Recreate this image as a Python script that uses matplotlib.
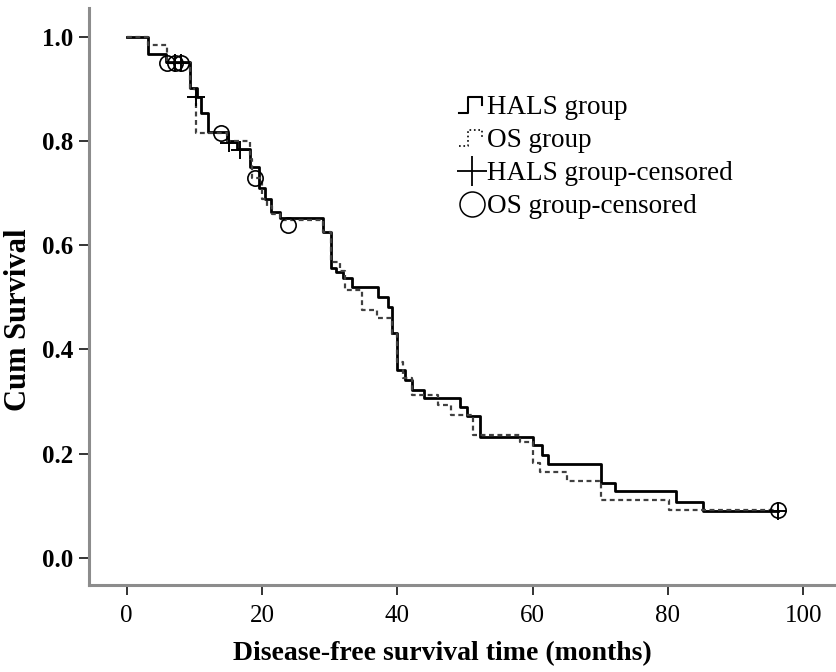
import matplotlib
matplotlib.use('Agg')
import matplotlib.pyplot as plt
from matplotlib.lines import Line2D
from matplotlib.legend_handler import HandlerBase

# Kaplan-Meier steps (time in months, survival after the step)
hals_times = [0, 3.1, 5.8, 9.3, 10.4, 11.0, 12.0, 14.8, 16.3, 18.2, 19.5, 20.5, 21.4, 22.6,
              29.0, 30.2, 31.0, 32.0, 33.3, 37.2, 38.6, 39.2, 40.0, 41.1, 42.2, 44.0,
              49.3, 50.3, 52.2, 60.0, 61.4, 62.3, 70.1, 72.2, 81.2, 85.2, 96.3]
hals_surv = [1.0, 0.967, 0.952, 0.902, 0.885, 0.854, 0.818, 0.80, 0.785, 0.75, 0.71, 0.69, 0.664, 0.652,
             0.626, 0.557, 0.549, 0.537, 0.52, 0.50, 0.482, 0.432, 0.361, 0.342, 0.322, 0.307,
             0.29, 0.272, 0.232, 0.217, 0.198, 0.18, 0.144, 0.127, 0.107, 0.09, 0.09]
hals_cens_t = [7.1, 8.0, 10.2, 15.2, 16.7, 96.3]
hals_cens_s = [0.95, 0.95, 0.885, 0.797, 0.783, 0.09]

os_times = [0, 3.1, 6.0, 9.3, 10.2, 14.9, 18.2, 18.6, 20.0, 20.8, 21.5, 22.7,
            29.0, 30.2, 31.5, 32.3, 34.8, 37.0, 39.2, 40.0, 40.8, 42.2, 46.0, 48.0,
            51.2, 58.1, 60.0, 61.1, 65.1, 70.1, 80.2, 96.3]
os_surv = [1.0, 0.985, 0.95, 0.90, 0.816, 0.80, 0.765, 0.73, 0.69, 0.675, 0.66, 0.648,
           0.626, 0.568, 0.55, 0.514, 0.476, 0.46, 0.43, 0.375, 0.345, 0.313, 0.294, 0.274,
           0.236, 0.222, 0.182, 0.165, 0.148, 0.111, 0.092, 0.092]
os_cens_t = [6.0, 7.1, 8.0, 14.0, 19.0, 23.8, 96.3]
os_cens_s = [0.95, 0.95, 0.95, 0.816, 0.73, 0.64, 0.092]

x_ticks = [0, 20, 40, 60, 80, 100]
y_ticks = [0.0, 0.2, 0.4, 0.6, 0.8, 1.0]


class HandlerStep(HandlerBase):
    def __init__(self, ls):
        super().__init__()
        self.ls = ls

    def create_artists(self, legend, orig_handle, xdescent, ydescent, width, height, fontsize, trans):
        x0, y0 = -xdescent, -ydescent
        xs = [x0, x0 + width * 0.35, x0 + width * 0.35, x0 + width * 0.85, x0 + width * 0.85]
        ys = [y0 + height * 0.05, y0 + height * 0.05, y0 + height * 0.9, y0 + height * 0.9, y0 + height * 0.45]
        ln = Line2D(xs, ys, color='black', lw=1.5 if self.ls == '-' else 1.2, ls=self.ls, transform=trans)
        return [ln]


plt.rcParams['font.family'] = ['Liberation Serif', 'DejaVu Serif']

fig = plt.figure(figsize=(8.37, 6.72), dpi=100)
ax = fig.add_axes([0.106, 0.13, 0.894, 0.858])

ax.step(hals_times, hals_surv, where='post', color='black', lw=2.0)
ax.step(os_times, os_surv, where='post', color='#404040', lw=1.6, ls=(0, (2.2, 1.6)))
ax.plot(hals_cens_t, hals_cens_s, ls='none', marker='+', ms=13, mew=1.4, color='black')
ax.plot(os_cens_t, os_cens_s, ls='none', marker='o', ms=11, mfc='none', mec='black', mew=1.2)

ax.set_xlim(-5.6, 105)
ax.set_ylim(-0.052, 1.056)
ax.set_xticks(x_ticks)
ax.set_yticks(y_ticks)
ax.set_yticklabels(['%.1f' % v for v in y_ticks])

for side in ['top', 'right']:
    ax.spines[side].set_visible(False)
for side in ['left', 'bottom']:
    ax.spines[side].set_color('#8c8c8c')
    ax.spines[side].set_linewidth(2.2)
ax.tick_params(direction='out', length=7, width=1.4, color='#333333', labelsize=18)
ax.tick_params(axis='x', pad=8)
ax.tick_params(axis='y', pad=4)
for lab in ax.get_yticklabels():
    lab.set_fontweight('bold')

ax.set_xlabel('Disease-free survival time (months)', fontsize=20, fontweight='bold')
ax.set_ylabel('Cum Survival', fontsize=22, fontweight='bold')
ax.xaxis.set_label_coords(0.473, -0.098)
ax.yaxis.set_label_coords(-0.074, 0.46)

h1 = Line2D([], [], color='black')
h2 = Line2D([], [], color='black', ls=':')
h3 = Line2D([], [], ls='none', marker='+', ms=22, mew=1.3, color='black')
h4 = Line2D([], [], ls='none', marker='o', ms=18, mfc='none', mec='black', mew=1.1)
ax.legend([h1, h2, h3, h4],
          ['HALS group', 'OS group', 'HALS group-censored', 'OS group-censored'],
          handler_map={h1: HandlerStep('-'), h2: HandlerStep(':')},
          loc='upper left', bbox_to_anchor=(0.48, 0.868), frameon=False, fontsize=19.5,
          handlelength=1.0, handletextpad=0.05, labelspacing=0.3, borderaxespad=0)

fig.savefig('out.png', dpi=100)
